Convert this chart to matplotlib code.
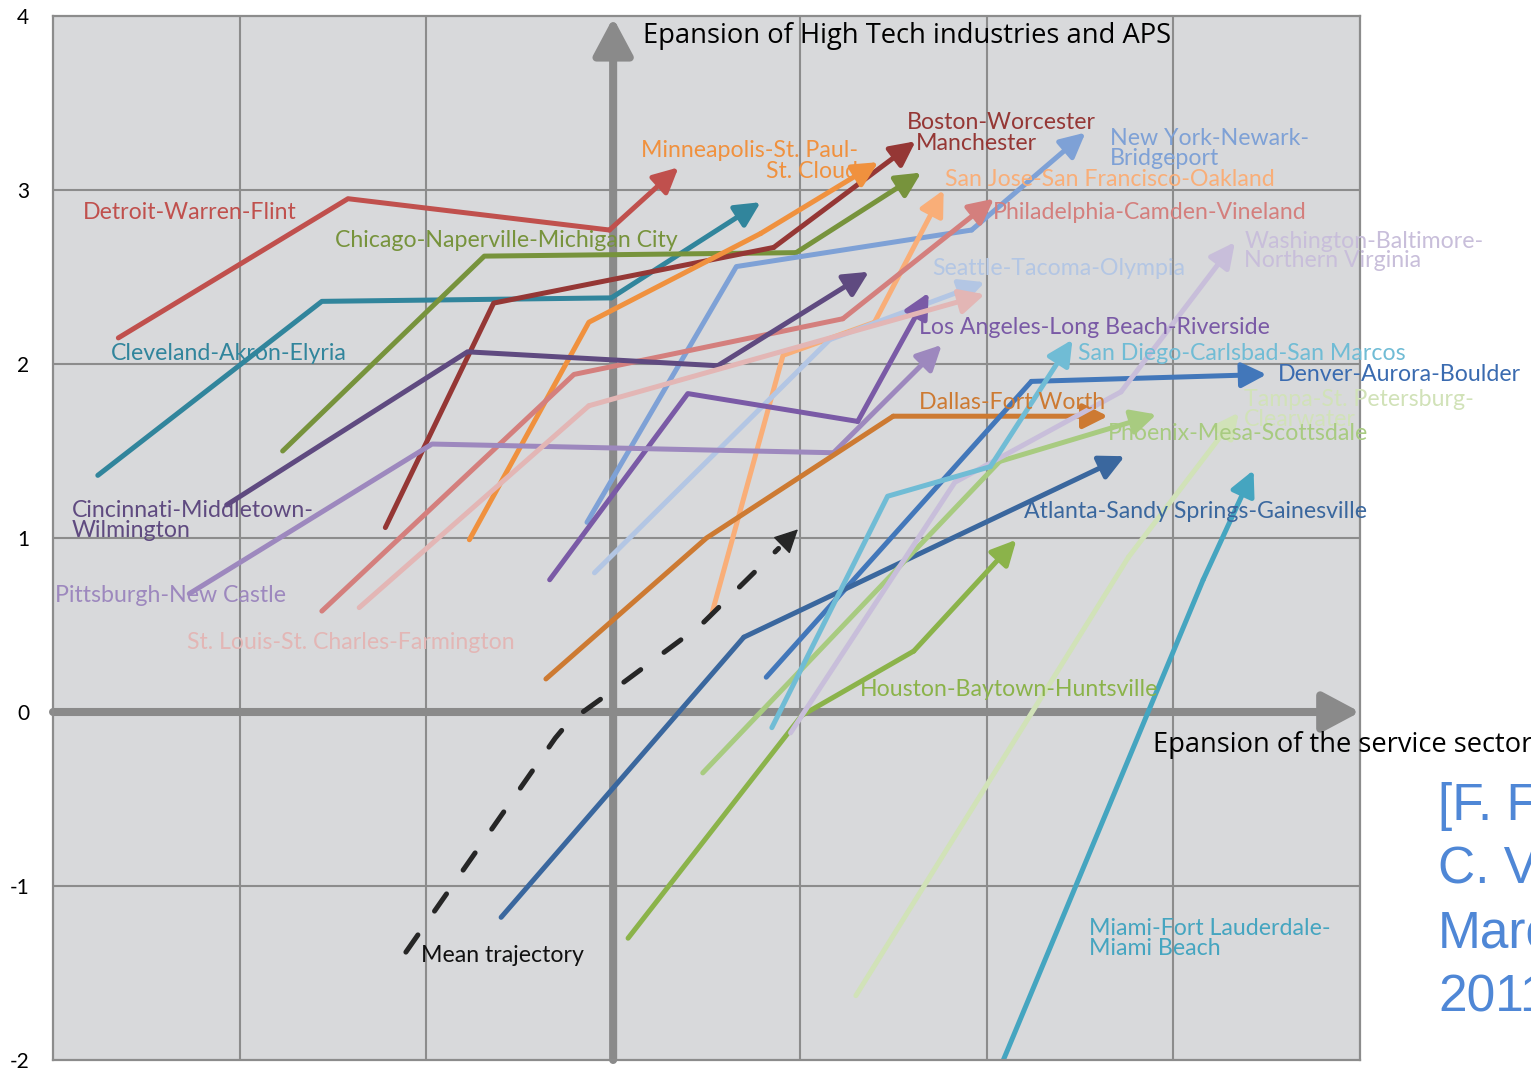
import numpy as np
import matplotlib
matplotlib.use("Agg")
import matplotlib.pyplot as plt

# trajectories: x = expansion of the service sector, y = expansion of high tech / APS
detroit_x = [-2.65, -1.42, -0.02, 0.35]
detroit_y = [2.15, 2.95, 2.77, 3.13]
cleveland_x = [-2.76, -1.56, -0.01, 0.79]
cleveland_y = [1.36, 2.36, 2.38, 2.93]
chicago_x = [-1.77, -0.69, 0.98, 1.65]
chicago_y = [1.50, 2.62, 2.64, 3.10]
boston_x = [-1.22, -0.64, 0.86, 1.62]
boston_y = [1.06, 2.35, 2.67, 3.28]
minneapolis_x = [-0.77, -0.13, 0.79, 1.42]
minneapolis_y = [0.99, 2.24, 2.75, 3.16]
newyork_x = [-0.14, 0.66, 1.92, 2.53]
newyork_y = [1.09, 2.56, 2.77, 3.33]
sanjose_x = [0.53, 0.91, 1.40, 1.77]
sanjose_y = [0.57, 2.05, 2.24, 3.00]
philadelphia_x = [-1.56, -0.21, 1.23, 2.04]
philadelphia_y = [0.58, 1.94, 2.26, 2.95]
seattle_x = [-0.10, 1.16, 1.99]
seattle_y = [0.80, 2.14, 2.47]
losangeles_x = [-0.34, 0.40, 1.31, 1.69]
losangeles_y = [0.76, 1.83, 1.67, 2.41]
cincinnati_x = [-2.07, -0.78, 0.56, 1.37]
cincinnati_y = [1.19, 2.07, 1.99, 2.53]
pittsburgh_x = [-2.27, -0.97, 1.18, 1.76]
pittsburgh_y = [0.68, 1.54, 1.49, 2.11]
stlouis_x = [-1.36, -0.13, 1.99]
stlouis_y = [0.60, 1.76, 2.40]
dallas_x = [-0.36, 0.50, 1.50, 2.65]
dallas_y = [0.19, 1.00, 1.70, 1.70]
denver_x = [0.82, 2.24, 3.50]
denver_y = [0.20, 1.90, 1.94]
atlanta_x = [-0.60, 0.70, 2.74]
atlanta_y = [-1.18, 0.43, 1.47]
houston_x = [0.08, 1.01, 1.61, 2.16]
houston_y = [-1.30, -0.02, 0.35, 0.99]
phoenix_x = [0.48, 2.07, 2.91]
phoenix_y = [-0.35, 1.44, 1.71]
washington_x = [0.95, 1.83, 2.72, 3.33]
washington_y = [-0.12, 1.32, 1.84, 2.70]
sandiego_x = [0.85, 1.47, 2.02, 2.46]
sandiego_y = [-0.09, 1.24, 1.41, 2.14]
tampa_x = [1.30, 2.76, 3.35]
tampa_y = [-1.63, 0.89, 1.72]
miami_x = [2.09, 3.16, 3.43]
miami_y = [-2.00, 0.76, 1.39]
mean_x = [-1.11, -0.31, -0.24, -0.02, 0.47, 0.99]
mean_y = [-1.38, -0.15, -0.06, 0.11, 0.50, 1.05]

series = [
    (detroit_x, detroit_y, "#C0504D"),
    (cleveland_x, cleveland_y, "#31859C"),
    (chicago_x, chicago_y, "#77933C"),
    (boston_x, boston_y, "#953735"),
    (minneapolis_x, minneapolis_y, "#F0913E"),
    (newyork_x, newyork_y, "#7EA1D6"),
    (sanjose_x, sanjose_y, "#F9AE78"),
    (philadelphia_x, philadelphia_y, "#D47F7D"),
    (seattle_x, seattle_y, "#B3C6E4"),
    (losangeles_x, losangeles_y, "#7A5AA6"),
    (cincinnati_x, cincinnati_y, "#5F4A80"),
    (pittsburgh_x, pittsburgh_y, "#9D88BE"),
    (stlouis_x, stlouis_y, "#E3B6B5"),
    (dallas_x, dallas_y, "#CD7A32"),
    (denver_x, denver_y, "#4277BA"),
    (atlanta_x, atlanta_y, "#3A679E"),
    (houston_x, houston_y, "#8BB34A"),
    (phoenix_x, phoenix_y, "#A8CB80"),
    (washington_x, washington_y, "#C8BEDA"),
    (sandiego_x, sandiego_y, "#70BCD5"),
    (tampa_x, tampa_y, "#D1E2B8"),
    (miami_x, miami_y, "#45A5C0"),
]

# label text, left x, centre y, colour
labels = [
    ("Detroit-Warren-Flint", -2.84, 2.87, "#C0504D"),
    ("Chicago-Naperville-Michigan City", -1.49, 2.71, "#77933C"),
    ("Cleveland-Akron-Elyria", -2.69, 2.06, "#31859C"),
    ("Cincinnati-Middletown-\nWilmington", -2.90, 1.10, "#5F4A80"),
    ("Pittsburgh-New Castle", -2.99, 0.67, "#9D88BE"),
    ("St. Louis-St. Charles-Farmington", -2.28, 0.40, "#E3B6B5"),
    ("Boston-Worcester", 1.575, 3.39, "#953735"),
    ("Manchester", 1.62, 3.27, "#953735"),
    ("New York-Newark-\nBridgeport", 2.66, 3.24, "#7EA1D6"),
    ("San Jose-San Francisco-Oakland", 1.78, 3.06, "#F9AE78"),
    ("Philadelphia-Camden-Vineland", 2.035, 2.87, "#D47F7D"),
    ("Washington-Baltimore-\nNorthern Virginia", 3.38, 2.65, "#C8BEDA"),
    ("Seattle-Tacoma-Olympia", 1.71, 2.55, "#B3C6E4"),
    ("Los Angeles-Long Beach-Riverside", 1.64, 2.21, "#7A5AA6"),
    ("San Diego-Carlsbad-San Marcos", 2.49, 2.06, "#70BCD5"),
    ("Denver-Aurora-Boulder", 3.56, 1.94, "#3A6BB0"),
    ("Tampa-St. Petersburg-\nClearwater", 3.38, 1.74, "#D1E2B8"),
    ("Dallas-Fort Worth", 1.64, 1.78, "#CD7A32"),
    ("Phoenix-Mesa-Scottsdale", 2.65, 1.60, "#A8CB80"),
    ("Atlanta-Sandy Springs-Gainesville", 2.20, 1.155, "#3A679E"),
    ("Houston-Baytown-Huntsville", 1.32, 0.13, "#8BB34A"),
    ("Miami-Fort Lauderdale-\nMiami Beach", 2.55, -1.30, "#45A5C0"),
    ("Mean trajectory", -1.03, -1.40, "#111111"),
]

citation = ["[F. F", "C. V", "Marc", "2011"]

LW = 3.6
FS = 16.7
label_font = ["Lato", "DejaVu Sans"]

fig = plt.figure(figsize=(15.31, 10.71), dpi=100)
ax = fig.add_axes([53 / 1531, 11 / 1071, 1307 / 1531, 1044 / 1071])
ax.set_facecolor("#D8D9DB")
ax.set_xlim(-3, 4)
ax.set_ylim(-2, 4)

for x in [-2, -1, 1, 2, 3]:
    ax.axvline(x, color="#8C8C8C", lw=1.5, zorder=0.5)
for y in [-1, 1, 2, 3]:
    ax.axhline(y, color="#8C8C8C", lw=1.5, zorder=0.5)
for s in ax.spines.values():
    s.set_color("#8C8C8C")
    s.set_linewidth(1.6)

# main axes as arrows
axis_arrow = dict(arrowstyle="-|>,head_length=0.75,head_width=0.4", mutation_scale=30,
                  lw=5.8, color="#8A8A8A", shrinkA=0, shrinkB=0)
ax.annotate("", xy=(0, 3.99), xytext=(0, -2), arrowprops=axis_arrow, zorder=1)
ax.annotate("", xy=(4.0, 0), xytext=(-3, 0), arrowprops=axis_arrow, zorder=1,
            annotation_clip=False)

head = "-|>,head_length=0.6,head_width=0.3"
for xs, ys, c in series:
    ax.plot(xs[:-1], ys[:-1], color=c, lw=LW, solid_joinstyle="round",
            solid_capstyle="round", zorder=2)
    ax.annotate("", xy=(xs[-1], ys[-1]), xytext=(xs[-2], ys[-2]),
                arrowprops=dict(arrowstyle=head, mutation_scale=25, lw=LW, color=c,
                                shrinkA=0, shrinkB=0, capstyle="round"), zorder=2)

# mean trajectory, dashed
ax.plot(mean_x[:-1] + [mean_x[-2] + 0.8 * (mean_x[-1] - mean_x[-2])],
        mean_y[:-1] + [mean_y[-2] + 0.8 * (mean_y[-1] - mean_y[-2])],
        color="#262626", lw=LW, ls=(0, (4.2, 5.8)), dash_capstyle="round", zorder=3)
ax.annotate("", xy=(mean_x[-1], mean_y[-1]),
            xytext=(mean_x[-1] - 0.1 * (mean_x[-1] - mean_x[-2]),
                    mean_y[-1] - 0.1 * (mean_y[-1] - mean_y[-2])),
            arrowprops=dict(arrowstyle=head, mutation_scale=25, lw=1, color="#262626",
                            shrinkA=0, shrinkB=0), zorder=3)

for txt, x, y, c in labels:
    ax.text(x, y, txt, color=c, fontsize=FS, family=label_font, ha="left", va="center",
            linespacing=0.92, zorder=4)
ax.text(1.31, 3.165, "Minneapolis-St. Paul-\nSt. Cloud", color="#F0913E", fontsize=FS,
        family=label_font, ha="right", va="center", multialignment="right",
        linespacing=1.0, zorder=4)

ax.text(0.16, 3.885, "Epansion of High Tech industries and APS", fontsize=19.7,
        family=["Open Sans", "DejaVu Sans"], ha="left", va="center", zorder=4)
ax.text(2.89, -0.19, "Epansion of the service sector", fontsize=19.6,
        family=["Open Sans", "DejaVu Sans"], ha="left", va="center", zorder=4)

ax.set_xticks([])
ax.set_yticks(range(-2, 5))
ax.set_yticklabels([str(v) for v in range(-2, 5)], fontsize=15, family=label_font)
ax.tick_params(axis="y", length=0, pad=17)

for i, line in enumerate(citation):
    fig.text(1438 / 1531, 1 - (820 + 64 * i) / 1071, line, fontsize=37,
             family=["Liberation Sans", "DejaVu Sans"], color="#4F87D6", va="baseline")

fig.savefig("out.png", dpi=100)
